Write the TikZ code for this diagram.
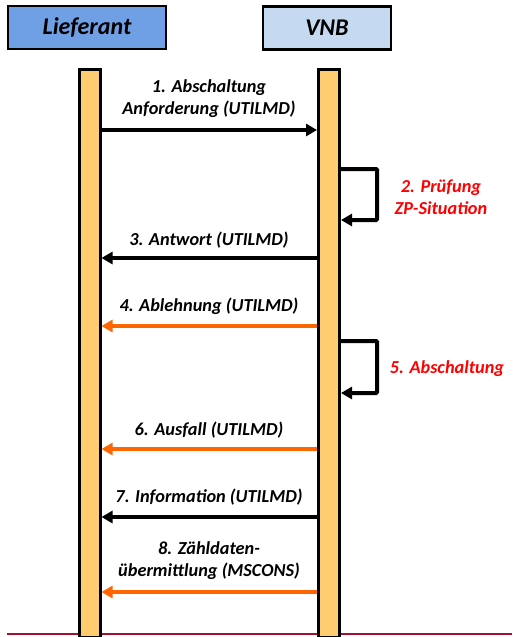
\documentclass[tikz,border=0pt]{standalone}
\usepackage{fontspec}
\setmainfont{Carlito}
\usetikzlibrary{arrows.meta,calc}
\definecolor{LiefClr}{RGB}{111,160,230}
\definecolor{VnbClr}{RGB}{197,217,241}
\definecolor{BarClr}{RGB}{255,204,111}
\definecolor{MsgClr}{RGB}{255,102,0}
\definecolor{StepClr}{RGB}{255,0,0}
\definecolor{RuleClr}{RGB}{165,15,50}

\begin{document}
\begin{tikzpicture}[x=1pt,y=-1pt,
  hdr/.style={draw=black,line width=2.5pt,minimum height=43pt,inner sep=0pt,
    font=\fontsize{24}{28}\selectfont\bfseries\itshape},
  bar/.style={draw=black,line width=3pt,fill=BarClr,minimum width=21pt,
    minimum height=568pt,inner sep=0pt},
  msg/.style={line width=4pt,-{Triangle[length=11pt,width=12pt]}},
  lbl/.style={font=\fontsize{18.3}{22}\selectfont\bfseries\itshape,align=center,inner sep=0pt},
  steplbl/.style={lbl,text=StepClr}]
\useasboundingbox (0,0) rectangle (512,637);

% Kopfzeile
\node[hdr,fill=LiefClr,minimum width=158pt] (Lief) at (87,27.5) {Lieferant};
\node[hdr,fill=VnbClr,minimum width=128pt] (Vnb) at (327,28) {VNB};

% Lebenslinien
\draw[RuleClr,line width=2pt] (7,634) -- (512,634);
\node[bar,anchor=north] (barL) at (89.5,68) {};
\node[bar,anchor=north] (barV) at (329,68) {};

% Nachrichten
\coordinate (m1) at (barL.east |- 0,130);
\coordinate (m3) at (barV.west |- 0,258);
\coordinate (m4) at (barV.west |- 0,326);
\coordinate (m6) at (barV.west |- 0,449);
\coordinate (m7) at (barV.west |- 0,517);
\coordinate (m8) at (barV.west |- 0,592);

\draw[msg] (m1) -- (m1 -| barV.west);
\draw[msg] (m3) -- (m3 -| barL.east);
\draw[msg,MsgClr] (m4) -- (m4 -| barL.east);
\draw[msg,MsgClr] (m6) -- (m6 -| barL.east);
\draw[msg] (m7) -- (m7 -| barL.east);
\draw[msg,MsgClr] (m8) -- (m8 -| barL.east);

% Schleifen am VNB
\coordinate (s2) at (barV.east |- 0,169);
\coordinate (s5) at (barV.east |- 0,341);
\draw[msg,rounded corners=1pt] (s2) -- ++(36,0) -- ++(0,51) -- ++(-36,0);
\draw[msg,rounded corners=1pt] (s5) -- ++(36,0) -- ++(0,52) -- ++(-36,0);

% Beschriftungen
\node[lbl] (t1) at (209,99) {1. Abschaltung\\Anforderung (UTILMD)};
\node[steplbl] (t2) at (441,197) {2. Prüfung\\ZP-Situation};
\node[lbl] (t3) at (209,240) {3. Antwort (UTILMD)};
\node[lbl] (t4) at (209,306) {4. Ablehnung (UTILMD)};
\node[steplbl] (t5) at (447,369) {5. Abschaltung};
\node[lbl] (t6) at (209,430) {6. Ausfall (UTILMD)};
\node[lbl] (t7) at (209,497) {7. Information (UTILMD)};
\node[lbl] (t8) at (209,561) {8. Zähldaten-\\übermittlung (MSCONS)};

\end{tikzpicture}
\end{document}
